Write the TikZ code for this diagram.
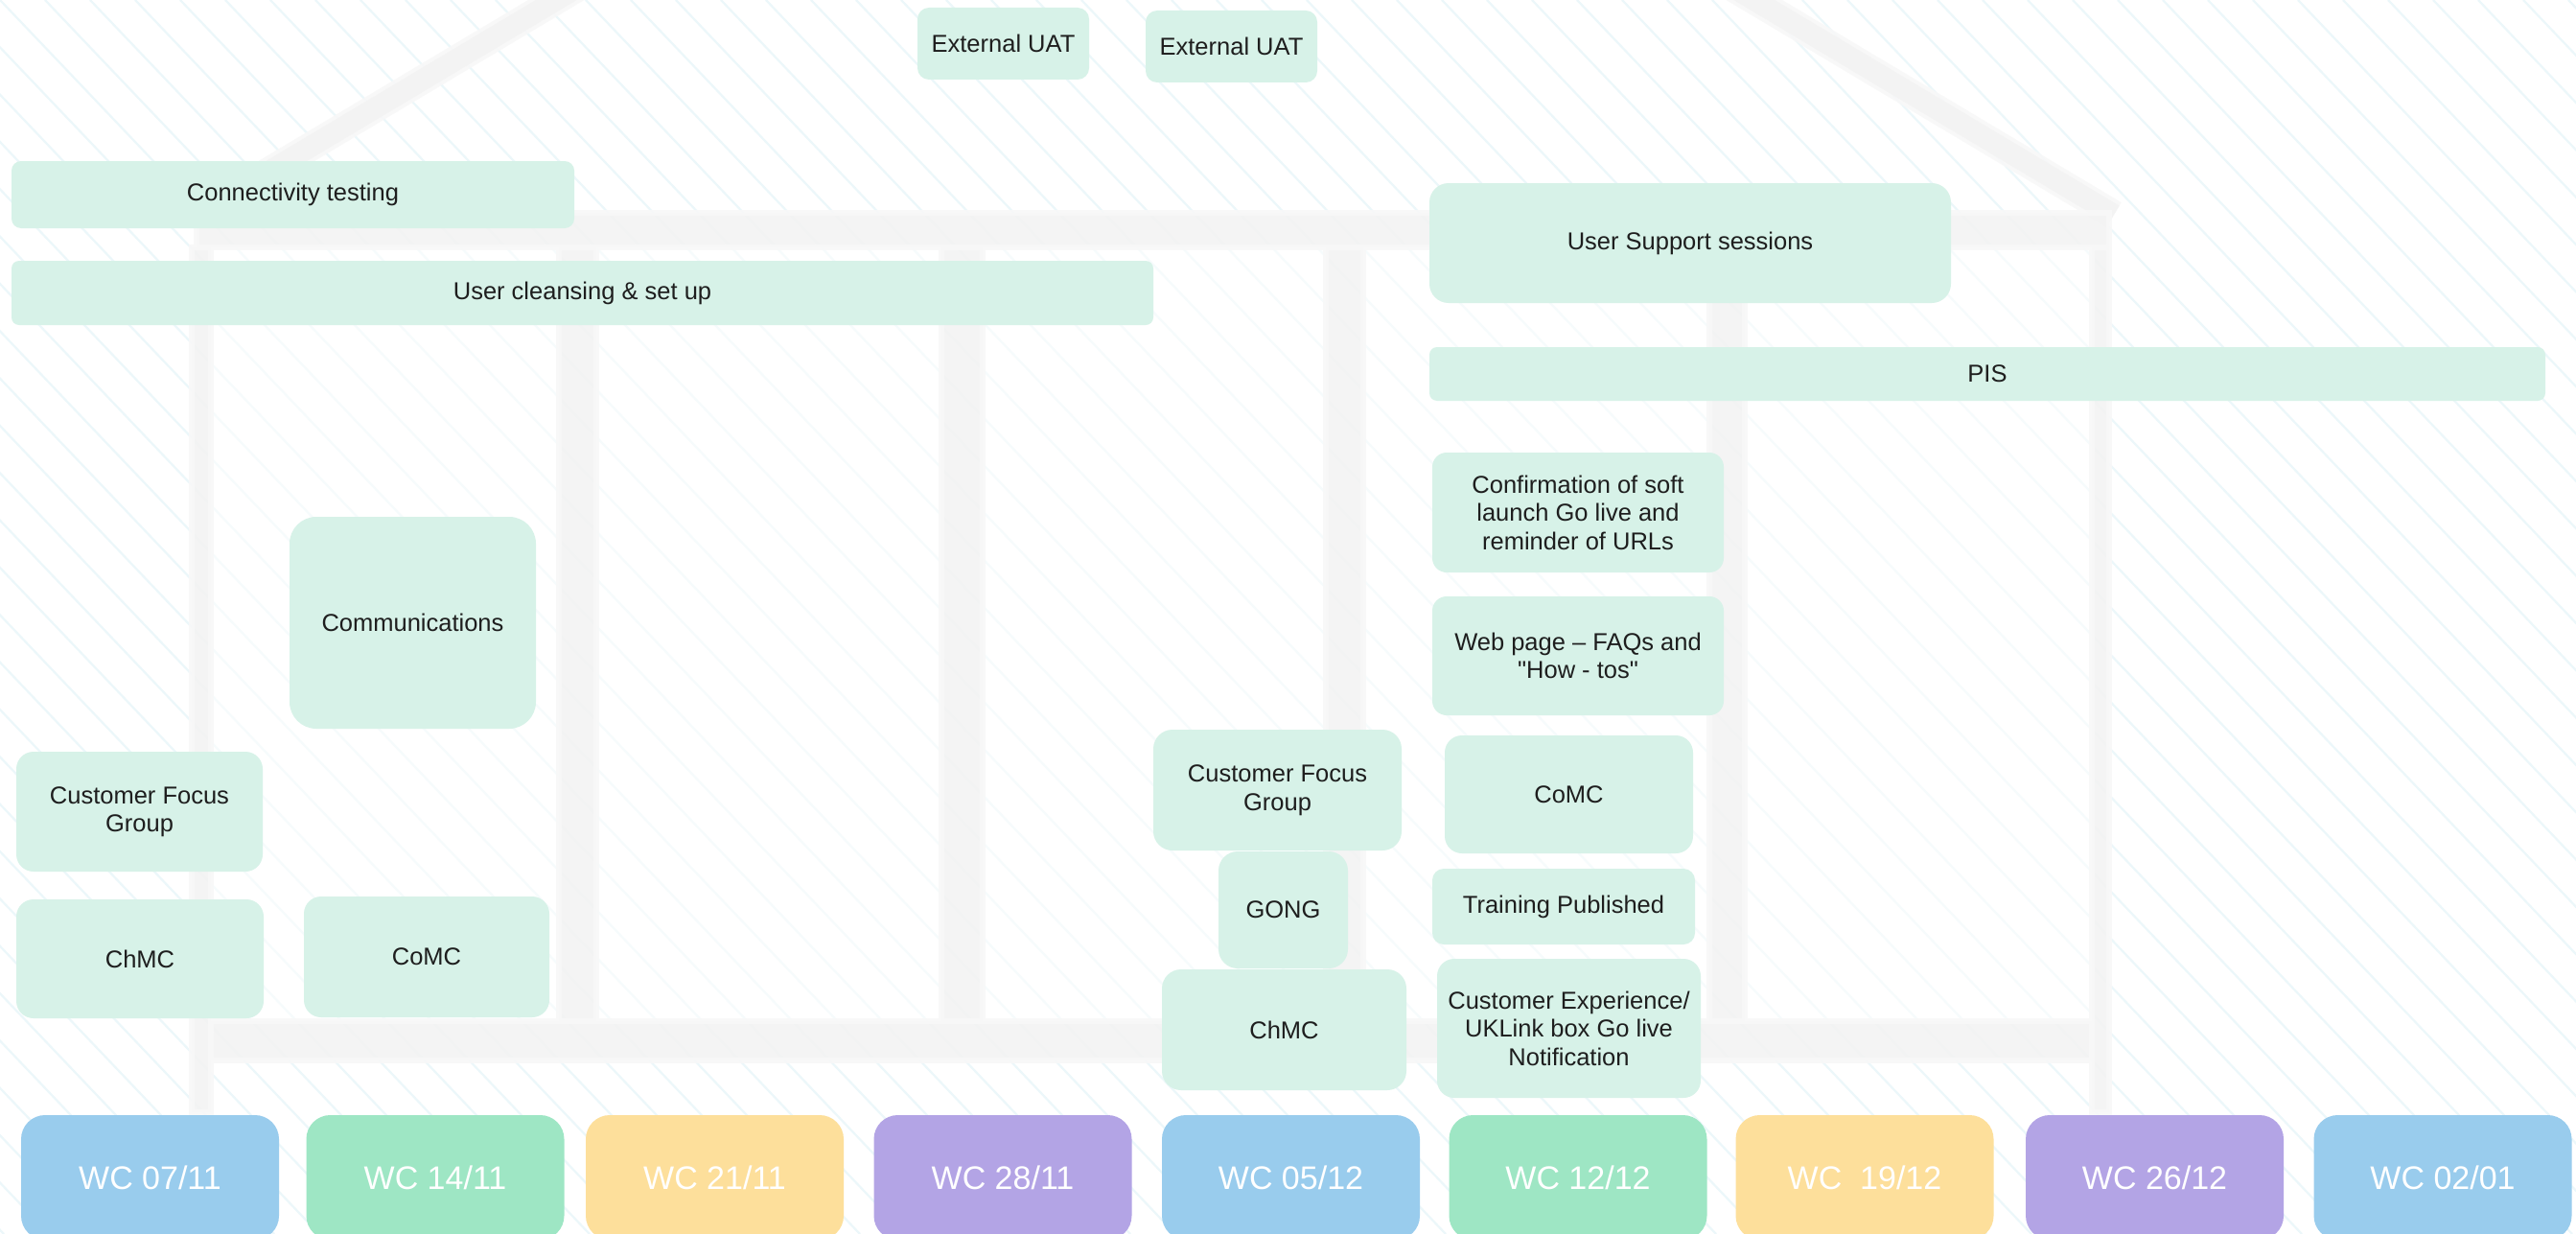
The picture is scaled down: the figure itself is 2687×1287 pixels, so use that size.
\documentclass[tikz,border=0pt]{standalone}
\usepackage{fontspec}
\setmainfont{Liberation Sans}
\newfontfamily\plainq{Liberation Sans}
\definecolor{boxgreen}{RGB}{215,242,232}
\definecolor{txtdark}{RGB}{30,30,30}
\definecolor{wcblue}{RGB}{153,204,237}
\definecolor{wcgreen}{RGB}{158,230,196}
\definecolor{wcyellow}{RGB}{253,223,155}
\definecolor{wcpurple}{RGB}{179,164,229}
\definecolor{housegrey}{RGB}{243,243,243}
\definecolor{houseedge}{RGB}{248,248,248}
\definecolor{hatchcol}{RGB}{236,247,250}
\begin{document}
\begin{tikzpicture}[x=1pt,y=-1pt,
  tbox/.style={fill=boxgreen, inner sep=0pt, align=center, text=txtdark,
    font=\fontsize{25.5}{29.5}\selectfont},
  wcbox/.style={inner sep=0pt, minimum width=269pt, minimum height=130pt,
    rounded corners=25pt, text=white, font=\fontsize{34}{40}\selectfont},
  housepart/.style={fill=housegrey, draw=houseedge, line width=6pt, opacity=0.9},
  panel/.style={fill=white, opacity=0.55},
  hatch/.style={draw=hatchcol, line width=2.2pt}]
\useasboundingbox (0,0) rectangle (2687,1287);
\begin{scope}
\clip (0,0) rectangle (2687,1287);
\fill[white] (0,0) rectangle (2687,1287);
% hatching
\foreach \i in {-27,...,58} {
  \draw[hatch] (\i*47,0) -- ++(1226,1287);
}
% house panels (lighter inside)
\path[panel] (220,258) rectangle (583,1065);
\path[panel] (622,258) rectangle (982,1065);
\path[panel] (1025,258) rectangle (1383,1065);
\path[panel] (1422,258) rectangle (1783,1065);
\path[panel] (1820,258) rectangle (2182,1065);
% house outline
\draw[houseedge, line width=30pt, opacity=0.9] (205,224) -- (1205,-373) -- (2205,224);
\draw[housegrey, line width=22pt, opacity=0.9] (205,224) -- (1205,-373) -- (2205,224);
\path[housepart] (205,222) rectangle (2200,258);
\path[housepart] (200,258) rectangle (220,1160);
\path[housepart] (2182,258) rectangle (2200,1160);
\path[housepart] (583,258) rectangle (622,1065);
\path[housepart] (982,258) rectangle (1025,1065);
\path[housepart] (1383,258) rectangle (1422,1065);
\path[housepart] (1783,258) rectangle (1820,1065);
\path[housepart] (220,1065) rectangle (2182,1106);
% task boxes
\node[tbox, minimum width=179pt, minimum height=75pt, rounded corners=12pt] (ext1) at (1046.5,45.5) {External UAT};
\node[tbox, minimum width=179pt, minimum height=75pt, rounded corners=12pt] (ext2) at (1284.5,48.5) {External UAT};
\node[tbox, minimum width=587pt, minimum height=70pt, rounded corners=10pt] (conn) at (305.5,203) {Connectivity testing};
\node[tbox, minimum width=1191pt, minimum height=67pt, rounded corners=8pt] (usercl) at (607.5,305.5) {User cleansing \& set up};
\node[tbox, minimum width=544pt, minimum height=125pt, rounded corners=20pt] (support) at (1763,253.5) {User Support sessions};
\node[tbox, minimum width=1164pt, minimum height=56pt, rounded corners=8pt] (pis) at (2073,390) {PIS};
\node[tbox, minimum width=304pt, minimum height=125pt, rounded corners=15pt] (confirm) at (1646,534.5) {Confirmation of soft\\launch Go live and\\reminder of URLs};
\node[tbox, minimum width=304pt, minimum height=124pt, rounded corners=15pt] (webpage) at (1646,684) {Web page – FAQs and\\{\plainq"}How - tos{\plainq"}};
\node[tbox, minimum width=259pt, minimum height=123pt, rounded corners=18pt] (comcR) at (1636.5,828.5) {CoMC};
\node[tbox, minimum width=274pt, minimum height=79pt, rounded corners=12pt] (training) at (1631,945.5) {Training Published};
\node[tbox, minimum width=275pt, minimum height=145pt, rounded corners=18pt] (custexp) at (1636.5,1072.5) {Customer Experience/\\UKLink box Go live\\Notification};
\node[tbox, minimum width=259pt, minimum height=126pt, rounded corners=20pt] (cfgM) at (1332.5,824) {Customer Focus\\Group};
\node[tbox, minimum width=135pt, minimum height=122pt, rounded corners=20pt] (gong) at (1338.5,949) {GONG};
\node[tbox, minimum width=255pt, minimum height=126pt, rounded corners=20pt] (chmcM) at (1339.5,1074) {ChMC};
\node[tbox, minimum width=257pt, minimum height=221pt, rounded corners=28pt] (comm) at (430.5,649.5) {Communications};
\node[tbox, minimum width=257pt, minimum height=125pt, rounded corners=18pt] (cfgL) at (145.5,846.5) {Customer Focus\\Group};
\node[tbox, minimum width=258pt, minimum height=124pt, rounded corners=18pt] (chmcL) at (146,1000) {ChMC};
\node[tbox, minimum width=256pt, minimum height=126pt, rounded corners=18pt] (comcL) at (445,998) {CoMC};
% week boxes
\node[wcbox, fill=wcblue] (wc1) at (156.5,1228) {WC 07/11};
\node[wcbox, fill=wcgreen] (wc2) at (454,1228) {WC 14/11};
\node[wcbox, fill=wcyellow] (wc3) at (745.5,1228) {WC 21/11};
\node[wcbox, fill=wcpurple] (wc4) at (1046,1228) {WC 28/11};
\node[wcbox, fill=wcblue] (wc5) at (1346.5,1228) {WC 05/12};
\node[wcbox, fill=wcgreen] (wc6) at (1646,1228) {WC 12/12};
\node[wcbox, fill=wcyellow] (wc7) at (1945,1228) {WC\ \ 19/12};
\node[wcbox, fill=wcpurple] (wc8) at (2247.5,1228) {WC 26/12};
\node[wcbox, fill=wcblue] (wc9) at (2548,1228) {WC 02/01};
\end{scope}
\end{tikzpicture}
\end{document}
